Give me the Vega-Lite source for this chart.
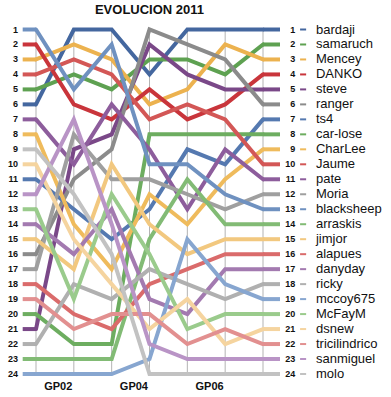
{
  "$schema": "https://vega.github.io/schema/vega-lite/v6.json",
  "width": 391,
  "height": 397,
  "autosize": "none",
  "padding": 0,
  "background": "white",
  "config": {"view": {"stroke": null}, "font": "Liberation Sans"},
  "datasets": {
    "ranks": [
      {"name":"bardaji","gp":1,"rank":6},{"name":"bardaji","gp":2,"rank":1},{"name":"bardaji","gp":3,"rank":1},{"name":"bardaji","gp":4,"rank":4},{"name":"bardaji","gp":5,"rank":1},{"name":"bardaji","gp":6,"rank":1},{"name":"bardaji","gp":7,"rank":1},
      {"name":"samaruch","gp":1,"rank":5},{"name":"samaruch","gp":2,"rank":4},{"name":"samaruch","gp":3,"rank":5},{"name":"samaruch","gp":4,"rank":3},{"name":"samaruch","gp":5,"rank":3},{"name":"samaruch","gp":6,"rank":4},{"name":"samaruch","gp":7,"rank":2},
      {"name":"Mencey","gp":1,"rank":3},{"name":"Mencey","gp":2,"rank":2},{"name":"Mencey","gp":3,"rank":3},{"name":"Mencey","gp":4,"rank":6},{"name":"Mencey","gp":5,"rank":5},{"name":"Mencey","gp":6,"rank":2},{"name":"Mencey","gp":7,"rank":3},
      {"name":"DANKO","gp":1,"rank":2},{"name":"DANKO","gp":2,"rank":6},{"name":"DANKO","gp":3,"rank":7},{"name":"DANKO","gp":4,"rank":5},{"name":"DANKO","gp":5,"rank":7},{"name":"DANKO","gp":6,"rank":6},{"name":"DANKO","gp":7,"rank":4},
      {"name":"steve","gp":1,"rank":21},{"name":"steve","gp":2,"rank":9},{"name":"steve","gp":3,"rank":8},{"name":"steve","gp":4,"rank":2},{"name":"steve","gp":5,"rank":4},{"name":"steve","gp":6,"rank":5},{"name":"steve","gp":7,"rank":5},
      {"name":"ranger","gp":1,"rank":16},{"name":"ranger","gp":2,"rank":11},{"name":"ranger","gp":3,"rank":9},{"name":"ranger","gp":4,"rank":1},{"name":"ranger","gp":5,"rank":2},{"name":"ranger","gp":6,"rank":3},{"name":"ranger","gp":7,"rank":6},
      {"name":"ts4","gp":1,"rank":11},{"name":"ts4","gp":2,"rank":13},{"name":"ts4","gp":3,"rank":15},{"name":"ts4","gp":4,"rank":13},{"name":"ts4","gp":5,"rank":9},{"name":"ts4","gp":6,"rank":10},{"name":"ts4","gp":7,"rank":7},
      {"name":"car-lose","gp":1,"rank":20},{"name":"car-lose","gp":2,"rank":22},{"name":"car-lose","gp":3,"rank":22},{"name":"car-lose","gp":4,"rank":8},{"name":"car-lose","gp":5,"rank":8},{"name":"car-lose","gp":6,"rank":8},{"name":"car-lose","gp":7,"rank":8},
      {"name":"CharLee","gp":1,"rank":8},{"name":"CharLee","gp":2,"rank":14},{"name":"CharLee","gp":3,"rank":17},{"name":"CharLee","gp":4,"rank":12},{"name":"CharLee","gp":5,"rank":14},{"name":"CharLee","gp":6,"rank":11},{"name":"CharLee","gp":7,"rank":9},
      {"name":"Jaume","gp":1,"rank":4},{"name":"Jaume","gp":2,"rank":3},{"name":"Jaume","gp":3,"rank":4},{"name":"Jaume","gp":4,"rank":7},{"name":"Jaume","gp":5,"rank":6},{"name":"Jaume","gp":6,"rank":7},{"name":"Jaume","gp":7,"rank":10},
      {"name":"pate","gp":1,"rank":7},{"name":"pate","gp":2,"rank":10},{"name":"pate","gp":3,"rank":6},{"name":"pate","gp":4,"rank":9},{"name":"pate","gp":5,"rank":13},{"name":"pate","gp":6,"rank":9},{"name":"pate","gp":7,"rank":11},
      {"name":"Moria","gp":1,"rank":17},{"name":"Moria","gp":2,"rank":8},{"name":"Moria","gp":3,"rank":11},{"name":"Moria","gp":4,"rank":11},{"name":"Moria","gp":5,"rank":12},{"name":"Moria","gp":6,"rank":13},{"name":"Moria","gp":7,"rank":12},
      {"name":"blacksheep","gp":1,"rank":1},{"name":"blacksheep","gp":2,"rank":5},{"name":"blacksheep","gp":3,"rank":2},{"name":"blacksheep","gp":4,"rank":10},{"name":"blacksheep","gp":5,"rank":10},{"name":"blacksheep","gp":6,"rank":12},{"name":"blacksheep","gp":7,"rank":13},
      {"name":"arraskis","gp":1,"rank":23},{"name":"arraskis","gp":2,"rank":23},{"name":"arraskis","gp":3,"rank":23},{"name":"arraskis","gp":4,"rank":15},{"name":"arraskis","gp":5,"rank":11},{"name":"arraskis","gp":6,"rank":14},{"name":"arraskis","gp":7,"rank":14},
      {"name":"jimjor","gp":1,"rank":15},{"name":"jimjor","gp":2,"rank":17},{"name":"jimjor","gp":3,"rank":10},{"name":"jimjor","gp":4,"rank":14},{"name":"jimjor","gp":5,"rank":16},{"name":"jimjor","gp":6,"rank":15},{"name":"jimjor","gp":7,"rank":15},
      {"name":"alapues","gp":1,"rank":18},{"name":"alapues","gp":2,"rank":20},{"name":"alapues","gp":3,"rank":21},{"name":"alapues","gp":4,"rank":18},{"name":"alapues","gp":5,"rank":17},{"name":"alapues","gp":6,"rank":16},{"name":"alapues","gp":7,"rank":16},
      {"name":"danyday","gp":1,"rank":14},{"name":"danyday","gp":2,"rank":16},{"name":"danyday","gp":3,"rank":13},{"name":"danyday","gp":4,"rank":19},{"name":"danyday","gp":5,"rank":20},{"name":"danyday","gp":6,"rank":17},{"name":"danyday","gp":7,"rank":17},
      {"name":"ricky","gp":1,"rank":22},{"name":"ricky","gp":2,"rank":18},{"name":"ricky","gp":3,"rank":19},{"name":"ricky","gp":4,"rank":17},{"name":"ricky","gp":5,"rank":18},{"name":"ricky","gp":6,"rank":19},{"name":"ricky","gp":7,"rank":18},
      {"name":"mccoy675","gp":1,"rank":24},{"name":"mccoy675","gp":2,"rank":24},{"name":"mccoy675","gp":3,"rank":24},{"name":"mccoy675","gp":4,"rank":23},{"name":"mccoy675","gp":5,"rank":15},{"name":"mccoy675","gp":6,"rank":18},{"name":"mccoy675","gp":7,"rank":19},
      {"name":"McFayM","gp":1,"rank":13},{"name":"McFayM","gp":2,"rank":19},{"name":"McFayM","gp":3,"rank":12},{"name":"McFayM","gp":4,"rank":16},{"name":"McFayM","gp":5,"rank":21},{"name":"McFayM","gp":6,"rank":20},{"name":"McFayM","gp":7,"rank":20},
      {"name":"dsnew","gp":1,"rank":10},{"name":"dsnew","gp":2,"rank":15},{"name":"dsnew","gp":3,"rank":18},{"name":"dsnew","gp":4,"rank":21},{"name":"dsnew","gp":5,"rank":19},{"name":"dsnew","gp":6,"rank":22},{"name":"dsnew","gp":7,"rank":21},
      {"name":"tricilindrico","gp":1,"rank":19},{"name":"tricilindrico","gp":2,"rank":21},{"name":"tricilindrico","gp":3,"rank":20},{"name":"tricilindrico","gp":4,"rank":20},{"name":"tricilindrico","gp":5,"rank":22},{"name":"tricilindrico","gp":6,"rank":21},{"name":"tricilindrico","gp":7,"rank":22},
      {"name":"sanmiguel","gp":1,"rank":12},{"name":"sanmiguel","gp":2,"rank":7},{"name":"sanmiguel","gp":3,"rank":14},{"name":"sanmiguel","gp":4,"rank":22},{"name":"sanmiguel","gp":5,"rank":23},{"name":"sanmiguel","gp":6,"rank":23},{"name":"sanmiguel","gp":7,"rank":23},
      {"name":"molo","gp":1,"rank":9},{"name":"molo","gp":2,"rank":12},{"name":"molo","gp":3,"rank":16},{"name":"molo","gp":4,"rank":24},{"name":"molo","gp":5,"rank":24},{"name":"molo","gp":6,"rank":24},{"name":"molo","gp":7,"rank":24}
    ],
    "gps": [
      {"gp":1,"label":""},{"gp":2,"label":"GP02"},{"gp":3,"label":""},{"gp":4,"label":"GP04"},{"gp":5,"label":""},{"gp":6,"label":"GP06"},{"gp":7,"label":""}
    ]
  },
  "layer": [
    {
      "data": {"name": "gps"},
      "mark": {"type": "rule", "color": "#b3b3b3", "strokeWidth": 1},
      "encoding": {
        "x": {"field": "gp", "type": "quantitative", "scale": {"domain": [1, 7], "range": [36, 263], "nice": false, "zero": false}, "axis": null},
        "y": {"datum": 1, "type": "quantitative", "scale": {"domain": [1, 24], "range": [29.5, 374], "nice": false, "zero": false}, "axis": null},
        "y2": {"datum": 24}
      }
    },
    {
      "data": {"name": "gps"},
      "transform": [{"filter": "datum.label != ''"}],
      "mark": {"type": "text", "align": "right", "baseline": "alphabetic", "dx": -1.5, "fontWeight": "bold", "fontSize": 11, "color": "#111"},
      "encoding": {
        "x": {"field": "gp", "type": "quantitative"},
        "y": {"datum": 25.1, "type": "quantitative"},
        "text": {"field": "label"}
      }
    },
    {
      "data": {"name": "ranks"},
      "transform": [{"filter": "datum.gp == 1"}],
      "mark": {"type": "rule", "strokeWidth": 4, "strokeCap": "butt"},
      "encoding": {
        "x": {"datum": 0.648, "type": "quantitative"},
        "x2": {"datum": 1},
        "y": {"field": "rank", "type": "quantitative"},
        "color": {"field": "name", "type": "nominal", "legend": null,
          "scale": {
            "domain": ["bardaji","samaruch","Mencey","DANKO","steve","ranger","ts4","car-lose","CharLee","Jaume","pate","Moria","blacksheep","arraskis","jimjor","alapues","danyday","ricky","mccoy675","McFayM","dsnew","tricilindrico","sanmiguel","molo"],
            "range": ["#44679f","#5ea151","#ecb24f","#c9353b","#7a4888","#8b8b8b","#5579b0","#6dad60","#efbb5c","#d35756","#8d5d9c","#9f9f9f","#6f91c0","#82bb75","#f2c87f","#da6b6b","#a37ab0","#b0b0b0","#87a6d0","#9acb8c","#f5d49f","#e29090","#b994c6","#c2c2c2"]
          }
        }
      }
    },
    {
      "data": {"name": "ranks"},
      "transform": [{"filter": "datum.gp == 7"}],
      "mark": {"type": "rule", "strokeWidth": 4, "strokeCap": "butt"},
      "encoding": {
        "x": {"datum": 7, "type": "quantitative"},
        "x2": {"datum": 7.45},
        "y": {"field": "rank", "type": "quantitative"},
        "color": {"field": "name", "type": "nominal"}
      }
    },
    {
      "data": {"name": "ranks"},
      "mark": {"type": "line", "strokeWidth": 4, "strokeCap": "round", "strokeJoin": "miter"},
      "encoding": {
        "x": {"field": "gp", "type": "quantitative"},
        "y": {"field": "rank", "type": "quantitative"},
        "color": {"field": "name", "type": "nominal"},
        "order": {"field": "gp"}
      }
    },
    {
      "data": {"name": "ranks"},
      "transform": [{"filter": "datum.gp == 1"}],
      "mark": {"type": "text", "align": "right", "baseline": "middle", "fontWeight": "bold", "fontSize": 9, "color": "#111"},
      "encoding": {
        "x": {"datum": 0.524, "type": "quantitative"},
        "y": {"field": "rank", "type": "quantitative"},
        "text": {"field": "rank"}
      }
    },
    {
      "data": {"name": "ranks"},
      "transform": [{"filter": "datum.gp == 7"}],
      "mark": {"type": "text", "align": "right", "baseline": "middle", "fontWeight": "bold", "fontSize": 9, "color": "#111"},
      "encoding": {
        "x": {"datum": 7.85, "type": "quantitative"},
        "y": {"field": "rank", "type": "quantitative"},
        "text": {"field": "rank"}
      }
    },
    {
      "data": {"name": "ranks"},
      "transform": [{"filter": "datum.gp == 7"}],
      "mark": {"type": "rule", "strokeWidth": 2},
      "encoding": {
        "x": {"datum": 7.98, "type": "quantitative"},
        "x2": {"datum": 8.14},
        "y": {"field": "rank", "type": "quantitative"},
        "color": {"field": "name", "type": "nominal"}
      }
    },
    {
      "data": {"name": "ranks"},
      "transform": [{"filter": "datum.gp == 7"}],
      "mark": {"type": "text", "align": "left", "baseline": "middle", "fontSize": 13, "color": "#111"},
      "encoding": {
        "x": {"datum": 8.4, "type": "quantitative"},
        "y": {"field": "rank", "type": "quantitative"},
        "text": {"field": "name"}
      }
    },
    {
      "data": {"values": [{"title": "EVOLUCION 2011"}]},
      "mark": {"type": "text", "align": "center", "baseline": "alphabetic", "fontWeight": "bold", "fontSize": 13, "color": "#111"},
      "encoding": {
        "x": {"datum": 4, "type": "quantitative"},
        "y": {"datum": -0.03, "type": "quantitative"},
        "text": {"field": "title"}
      }
    }
  ]
}
